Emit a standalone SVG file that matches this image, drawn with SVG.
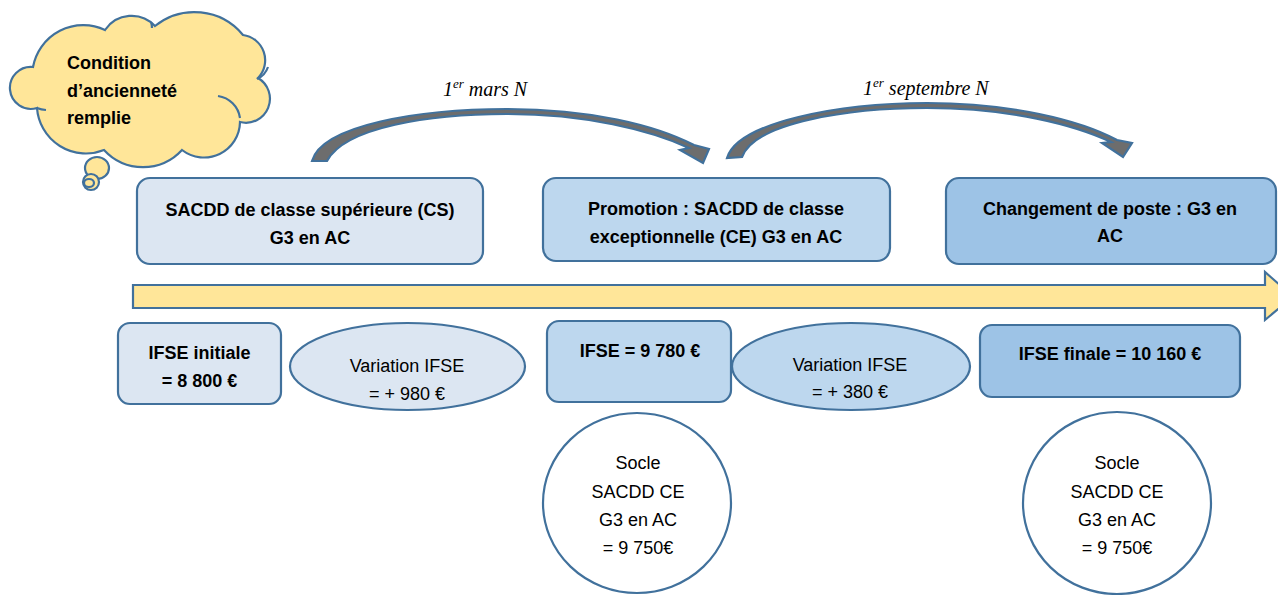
<svg xmlns="http://www.w3.org/2000/svg" width="1278" height="595" viewBox="0 0 1278 595">
<style>
.st{stroke:#41719c;stroke-width:2.2}
.l1{fill:#dce6f2}
.l2{fill:#bdd7ee}
.l3{fill:#9dc3e6}
.b{font-family:"Liberation Sans",Arial,sans-serif;font-weight:bold;font-size:18px;fill:#000;text-anchor:middle}
.r{font-family:"Liberation Sans",Arial,sans-serif;font-size:18px;fill:#000;text-anchor:middle}
.i{font-family:"Liberation Serif","Times New Roman",serif;font-style:italic;font-size:20px;fill:#000}
.arc{fill:#6d6d6d;stroke:#41719c;stroke-width:2.2;stroke-linejoin:miter}
</style>
<rect width="1278" height="595" fill="#fff"/>

<g id="cloud">
<path class="st" fill="#ffe699" d="M37,108 A21,21 0 1 1 33,67 A51,51 0 0 1 105,30 A32,32 0 0 1 155,26 A63,63 0 0 1 243,35 A25.5,25.5 0 0 1 258,78 A24,24 0 0 1 240,122 A36,36 0 0 1 182,150 A53,53 0 0 1 104,150 A49,49 0 0 1 37,108 Z"/>
<path fill="none" class="st" d="M218,96 A26,26 0 0 1 240,118 M257,79 A20,20 0 0 0 268,67 M37,108 A30,30 0 0 0 46,110 M152,28 A20,20 0 0 0 151,22"/>
<ellipse class="st" fill="#ffe699" cx="97" cy="168" rx="12" ry="11"/>
<ellipse class="st" fill="#ffe699" cx="91" cy="182" rx="8" ry="8"/>
<ellipse class="st" fill="none" cx="89" cy="183" rx="5" ry="4"/>
<text class="b" style="text-anchor:start" x="67" y="69">Condition</text>
<text class="b" style="text-anchor:start" x="67" y="96.5">d’ancienneté</text>
<text class="b" style="text-anchor:start" x="67" y="124">remplie</text>
</g>

<g id="connectors">
<path class="arc" d="M312,161 C322,125 420,109 507,109 C590,109 655,125 694,145 L709,149 L703,163 L680,150 L689,148 C650,130 585,114 507,114 C430,114 345,127 327,161 Z"/>
<path class="arc" d="M727,158 C738,122 840,103 927,103 C1010,103 1080,120 1117,140 L1132,143 L1123,157 L1102,143 L1111,142 C1075,125 1010,108 927,108 C850,108 755,122 742,157 Z"/>
<text class="i" x="443" y="96">1<tspan font-size="13" dy="-8">er</tspan><tspan dy="8"> mars N</tspan></text>
<text class="i" x="863" y="95">1<tspan font-size="13" dy="-8">er</tspan><tspan dy="8"> septembre N</tspan></text>
</g>

<g id="timeline">
<path class="st" fill="#ffe699" d="M133,285 L1265,285 L1265,272 L1293,296.5 L1265,320 L1265,308 L133,308 Z"/>
</g>

<g id="box-cs">
<rect class="st l1" x="137" y="178" width="346" height="86" rx="13"/>
<text class="b" x="310" y="216">SACDD de classe supérieure (CS)</text>
<text class="b" x="310" y="244">G3 en AC</text>
</g>

<g id="box-promotion">
<rect class="st l2" x="543" y="178" width="347" height="83" rx="13"/>
<text class="b" x="716" y="215">Promotion : SACDD de classe</text>
<text class="b" x="716" y="243">exceptionnelle (CE) G3 en AC</text>
</g>

<g id="box-changement">
<rect class="st l3" x="946" y="178" width="330" height="86" rx="13"/>
<text class="b" x="1110" y="215">Changement de poste : G3 en</text>
<text class="b" x="1110" y="242">AC</text>
</g>

<g id="ifse-initiale">
<rect class="st l1" x="118" y="323" width="163" height="81" rx="12"/>
<text class="b" x="199.5" y="359">IFSE initiale</text>
<text class="b" x="199.5" y="387">= 8 800 €</text>
</g>

<g id="variation-1">
<ellipse class="st l1" cx="407.5" cy="366.5" rx="117.5" ry="43.5"/>
<text class="r" x="407" y="372">Variation IFSE</text>
<text class="r" x="407" y="400">= + 980 €</text>
</g>

<g id="ifse-9780">
<rect class="st l2" x="547" y="321" width="184" height="81" rx="12"/>
<text class="b" x="640" y="357">IFSE = 9 780 €</text>
</g>

<g id="variation-2">
<ellipse class="st l2" cx="851" cy="366.5" rx="119" ry="43.5"/>
<text class="r" x="850" y="371">Variation IFSE</text>
<text class="r" x="850" y="398">= + 380 €</text>
</g>

<g id="ifse-finale">
<rect class="st l3" x="980" y="325" width="260" height="72" rx="12"/>
<text class="b" x="1110" y="360">IFSE finale = 10 160 €</text>
</g>

<g id="socle-1">
<ellipse class="st" fill="#fff" cx="637" cy="503" rx="94" ry="90"/>
<text class="r" x="638" y="469">Socle</text>
<text class="r" x="638" y="498">SACDD CE</text>
<text class="r" x="638" y="526">G3 en AC</text>
<text class="r" x="638" y="554">= 9 750€</text>
</g>

<g id="socle-2">
<ellipse class="st" fill="#fff" cx="1117" cy="503" rx="94" ry="91"/>
<text class="r" x="1117" y="469">Socle</text>
<text class="r" x="1117" y="498">SACDD CE</text>
<text class="r" x="1117" y="526">G3 en AC</text>
<text class="r" x="1117" y="554">= 9 750€</text>
</g>
</svg>
